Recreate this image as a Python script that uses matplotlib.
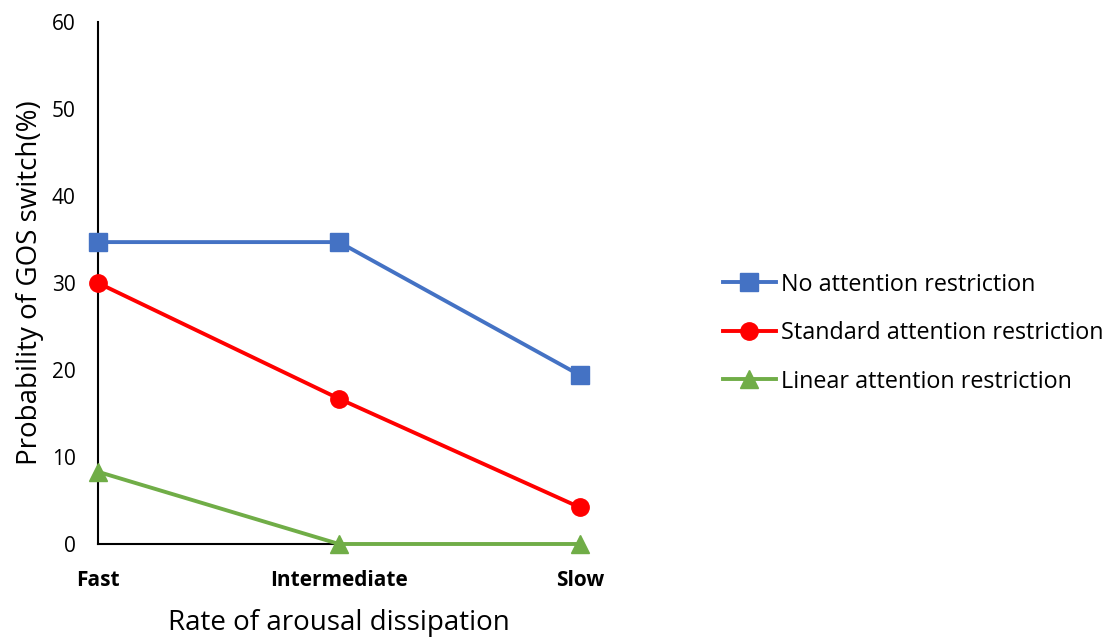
import matplotlib
matplotlib.use("Agg")
import matplotlib.pyplot as plt

categories = ["Fast", "Intermediate", "Slow"]
series_names = ["No attention restriction", "Standard attention restriction",
                "Linear attention restriction"]
no_restriction = [34.7, 34.7, 19.4]
standard_restriction = [30.0, 16.7, 4.2]
linear_restriction = [8.3, 0.0, 0.0]
y_ticks = [0, 10, 20, 30, 40, 50, 60]

plt.rcParams["font.family"] = ["Open Sans", "DejaVu Sans"]

fig = plt.figure(figsize=(11.1, 6.37), dpi=100)
ax = fig.add_axes([0.0883, 0.146, 0.4342, 0.8195])

x = list(range(len(categories)))
styles = [("#4472C4", "s"), ("#FF0000", "o"), ("#70AD47", "^")]
for name, vals, (col, mk) in zip(series_names,
                                 [no_restriction, standard_restriction, linear_restriction],
                                 styles):
    ax.plot(x, vals, color=col, marker=mk, markersize=12.5, linewidth=2.8,
            label=name, clip_on=False, zorder=5)

ax.set_xlim(0, 2)
ax.set_ylim(0, 60)
ax.set_yticks(y_ticks)
ax.set_xticks(x)
ax.set_xticklabels(categories, fontweight="bold", fontsize=15)
ax.tick_params(axis="y", length=0, labelsize=15, pad=16)
ax.tick_params(axis="x", length=0, pad=19)
for s in ["top", "right"]:
    ax.spines[s].set_visible(False)
for s in ["left", "bottom"]:
    ax.spines[s].set_linewidth(1.5)
    ax.spines[s].set_color("black")

ax.set_xlabel("Rate of arousal dissipation", fontsize=20, labelpad=13)
ax.set_ylabel("Probability of GOS switch(%)", fontsize=20, labelpad=6)

fig.legend(loc="center left", bbox_to_anchor=(0.651, 0.477), frameon=False,
           borderpad=0, borderaxespad=0,
           fontsize=16.8, handlelength=2.3, handletextpad=0.2, labelspacing=1.05)

fig.savefig("out.png", dpi=100)
